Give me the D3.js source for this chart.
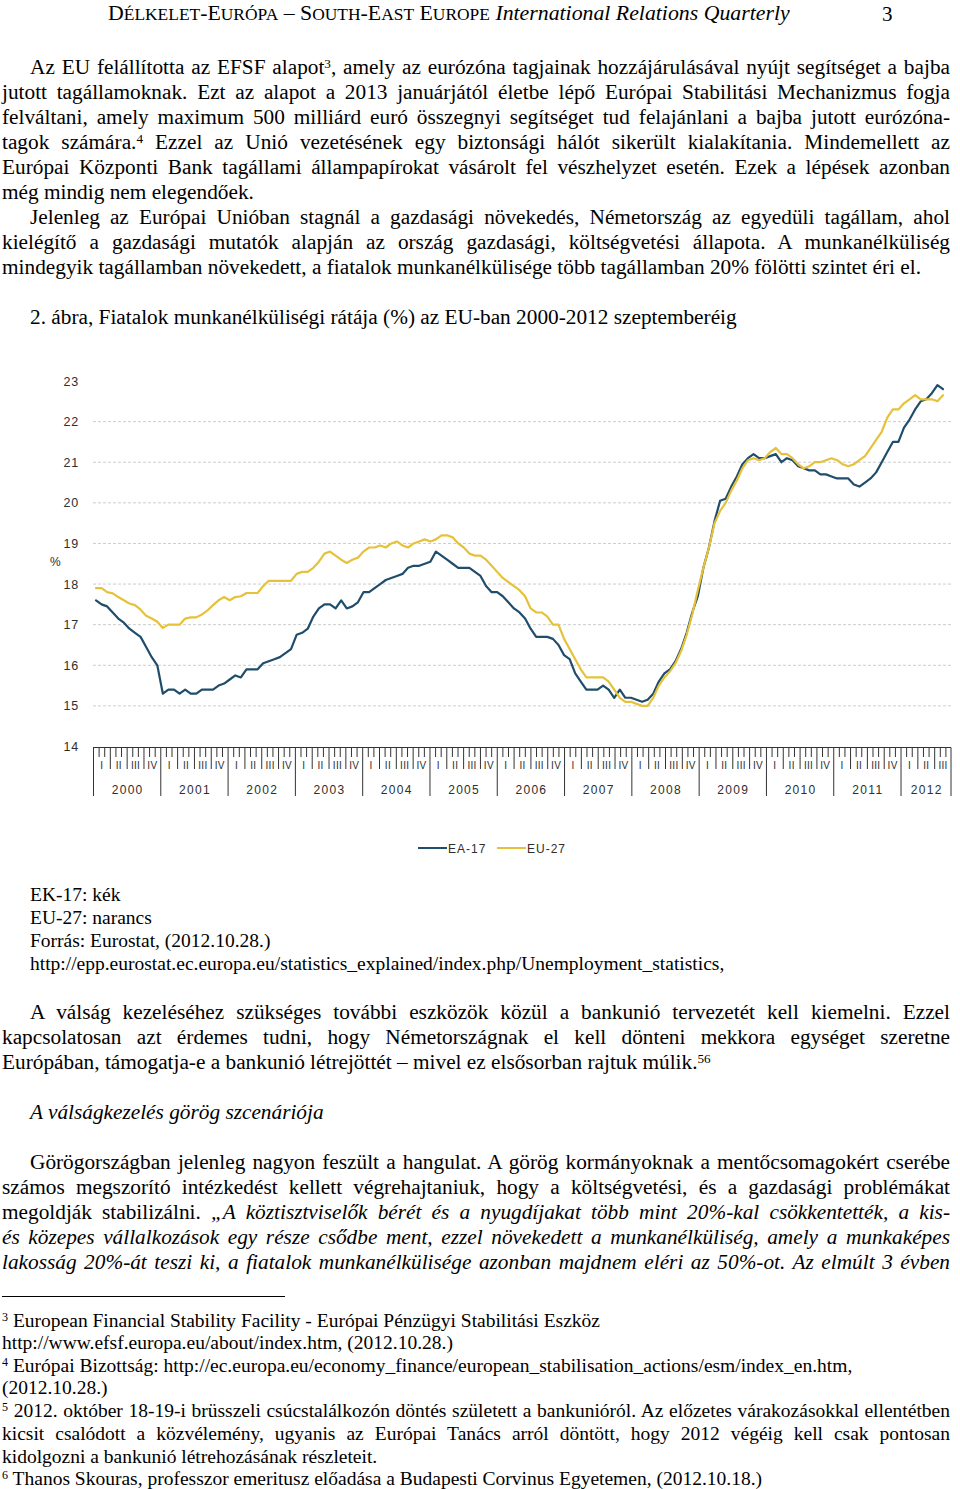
<!DOCTYPE html>
<html><head><meta charset="utf-8">
<script src="https://cdn.jsdelivr.net/npm/d3@7"></script>
<style>
html,body{margin:0;padding:0;background:#fff;}
body{width:960px;height:1489px;position:relative;overflow:hidden;font-family:"Liberation Serif","Times New Roman",serif;color:#000;}
.ln{position:absolute;line-height:1;}
.j{text-align:justify;text-align-last:justify;}
sup{font-size:0.62em;vertical-align:baseline;position:relative;top:-0.5em;line-height:0;}
.sc{font-size:0.8em;}
svg{position:absolute;left:0;top:0;}
.ax{font-family:"Liberation Sans",Arial,sans-serif;fill:#2e2e2e;}
</style></head><body>
<script>
// ---------------- chart data ----------------
const years = ["2000","2001","2002","2003","2004","2005","2006","2007","2008","2009","2010","2011","2012"];
const quarterLabels = ["I","II","III","IV"];
const yTicks = [14,15,16,17,18,19,20,21,22,23];
const gridValues = [15,16,17,18,19,20,21,22];
const seriesNames = ["EA-17","EU-27"];

// monthly youth unemployment rate (%), Jan 2000 – Sep 2012
const ea17 = [
 17.6,17.5,17.45,17.3,17.15,17.05,16.9,16.8,16.7,16.45,16.2,16.0,
 15.3,15.4,15.4,15.3,15.4,15.3,15.3,15.4,15.4,15.4,15.5,15.55,
 15.65,15.75,15.7,15.9,15.9,15.9,16.05,16.1,16.15,16.2,16.3,16.4,
 16.75,16.8,16.9,17.2,17.4,17.5,17.5,17.4,17.6,17.4,17.45,17.55,
 17.8,17.8,17.9,18.0,18.1,18.15,18.2,18.25,18.4,18.45,18.45,18.5,
 18.55,18.8,18.7,18.6,18.5,18.4,18.4,18.4,18.3,18.2,17.95,17.8,
 17.8,17.7,17.55,17.4,17.3,17.15,16.9,16.7,16.7,16.7,16.65,16.5,
 16.25,16.15,15.8,15.6,15.4,15.4,15.4,15.5,15.4,15.2,15.4,15.2,
 15.2,15.15,15.1,15.15,15.3,15.6,15.8,15.9,16.1,16.4,16.8,17.3,
 17.7,18.4,18.9,19.55,20.05,20.1,20.4,20.65,20.95,21.1,21.2,21.1,
 21.1,21.15,21.2,21.0,21.1,21.05,20.9,20.85,20.8,20.8,20.7,20.7,
 20.65,20.6,20.6,20.6,20.45,20.4,20.5,20.6,20.75,21.0,21.25,21.5,
 21.5,21.85,22.05,22.3,22.5,22.55,22.7,22.9,22.8
];
const eu27 = [
 17.9,17.9,17.8,17.77,17.68,17.6,17.52,17.48,17.37,17.22,17.15,17.07,
 16.92,17.0,17.0,17.0,17.15,17.18,17.18,17.25,17.35,17.48,17.6,17.68,
 17.6,17.68,17.7,17.78,17.78,17.78,17.95,18.08,18.08,18.08,18.08,18.08,
 18.25,18.3,18.3,18.4,18.55,18.75,18.8,18.7,18.6,18.52,18.6,18.65,
 18.8,18.9,18.9,18.95,18.9,19.0,19.05,18.95,18.9,19.0,19.05,19.1,
 19.05,19.1,19.2,19.2,19.15,19.0,18.9,18.75,18.7,18.7,18.6,18.45,
 18.3,18.15,18.05,17.95,17.85,17.7,17.4,17.3,17.3,17.2,17.0,17.0,
 16.65,16.4,16.15,15.9,15.7,15.7,15.7,15.7,15.6,15.4,15.2,15.1,
 15.1,15.05,15.0,15.0,15.2,15.5,15.7,15.85,16.05,16.35,16.75,17.25,
 17.85,18.4,18.9,19.5,19.8,20.0,20.3,20.55,20.85,21.05,21.1,21.05,
 21.1,21.25,21.35,21.2,21.2,21.1,20.95,20.85,20.9,21.0,21.0,21.05,
 21.1,21.05,20.95,20.9,20.95,21.05,21.15,21.35,21.55,21.75,22.1,22.3,
 22.3,22.45,22.55,22.65,22.55,22.55,22.55,22.5,22.65
];

// ---------------- page text ----------------
const textLines = [
 {x:30,b:75,s:21.3,j:1,h:'Az EU felállította az EFSF alapot<sup>3</sup>, amely az eurózóna tagjainak hozzájárulásával nyújt segítséget a bajba'},
 {x:2,b:100,s:21.3,j:1,h:'jutott tagállamoknak. Ezt az alapot a 2013 januárjától életbe lépő Európai Stabilitási Mechanizmus fogja'},
 {x:2,b:125,s:21.3,j:1,h:'felváltani, amely maximum 500 milliárd euró összegnyi segítséget tud felajánlani a bajba jutott eurózóna-'},
 {x:2,b:150,s:21.3,j:1,h:'tagok számára.<sup>4</sup> Ezzel az Unió vezetésének egy biztonsági hálót sikerült kialakítania. Mindemellett az'},
 {x:2,b:175,s:21.3,j:1,h:'Európai Központi Bank tagállami állampapírokat vásárolt fel vészhelyzet esetén. Ezek a lépések azonban'},
 {x:2,b:200,s:21.3,j:0,h:'még mindig nem elegendőek.'},
 {x:30,b:225,s:21.3,j:1,h:'Jelenleg az Európai Unióban stagnál a gazdasági növekedés, Németország az egyedüli tagállam, ahol'},
 {x:2,b:250,s:21.3,j:1,h:'kielégítő a gazdasági mutatók alapján az ország gazdasági, költségvetési állapota. A munkanélküliség'},
 {x:2,b:275,s:21.3,j:0,h:'mindegyik tagállamban növekedett, a fiatalok munkanélkülisége több tagállamban 20% fölötti szintet éri el.'},
 {x:30,b:325,s:21.3,j:0,h:'2. ábra, Fiatalok munkanélküliségi rátája (%) az EU-ban 2000-2012 szeptemberéig'},
 {x:30,b:901,s:19.5,j:0,h:'EK-17: kék'},
 {x:30,b:924,s:19.5,j:0,h:'EU-27: narancs'},
 {x:30,b:947,s:19.5,j:0,h:'Forrás: Eurostat, (2012.10.28.)'},
 {x:30,b:970,s:19.5,j:0,h:'http://epp.eurostat.ec.europa.eu/statistics_explained/index.php/Unemployment_statistics,'},
 {x:30,b:1020,s:21.3,j:1,h:'A válság kezeléséhez szükséges további eszközök közül a bankunió tervezetét kell kiemelni. Ezzel'},
 {x:2,b:1045,s:21.3,j:1,h:'kapcsolatosan azt érdemes tudni, hogy Németországnak el kell dönteni mekkora egységet szeretne'},
 {x:2,b:1070,s:21.3,j:0,h:'Európában, támogatja-e a bankunió létrejöttét – mivel ez elsősorban rajtuk múlik.<sup>56</sup>'},
 {x:30,b:1120,s:21.3,j:0,h:'<i>A válságkezelés görög szcenáriója</i>'},
 {x:30,b:1170,s:21.3,j:1,h:'Görögországban jelenleg nagyon feszült a hangulat. A görög kormányoknak a mentőcsomagokért cserébe'},
 {x:2,b:1195,s:21.3,j:1,h:'számos megszorító intézkedést kellett végrehajtaniuk, hogy a költségvetési, és a gazdasági problémákat'},
 {x:2,b:1220,s:21.3,j:1,h:'megoldják stabilizálni. <i>„A köztisztviselők bérét és a nyugdíjakat több mint 20%-kal csökkentették, a kis-</i>'},
 {x:2,b:1245,s:21.3,j:1,h:'<i>és közepes vállalkozások egy része csődbe ment, ezzel növekedett a munkanélküliség, amely a munkaképes</i>'},
 {x:2,b:1270,s:21.3,j:1,h:'<i>lakosság 20%-át teszi ki, a fiatalok munkanélkülisége azonban majdnem eléri az 50%-ot. Az elmúlt 3 évben</i>'},
 {x:2,b:1327,s:19.5,j:0,h:'<sup>3</sup> European Financial Stability Facility - Európai Pénzügyi Stabilitási Eszköz'},
 {x:2,b:1349,s:19.5,j:0,h:'http://www.efsf.europa.eu/about/index.htm, (2012.10.28.)'},
 {x:2,b:1372,s:19.5,j:0,h:'<sup>4</sup> Európai Bizottság: http://ec.europa.eu/economy_finance/european_stabilisation_actions/esm/index_en.htm,'},
 {x:2,b:1394,s:19.5,j:0,h:'(2012.10.28.)'},
 {x:2,b:1417,s:19.5,j:1,h:'<sup>5</sup> 2012. október 18-19-i brüsszeli csúcstalálkozón döntés született a bankunióról. Az előzetes várakozásokkal ellentétben'},
 {x:2,b:1440,s:19.5,j:1,h:'kicsit csalódott a közvélemény, ugyanis az Európai Tanács arról döntött, hogy 2012 végéig kell csak pontosan'},
 {x:2,b:1463,s:19.5,j:0,h:'kidolgozni a bankunió létrehozásának részleteit.'},
 {x:2,b:1485,s:19.5,j:0,h:'<sup>6</sup> Thanos Skouras, professzor emeritusz előadása a Budapesti Corvinus Egyetemen, (2012.10.18.)'}
];

const body = d3.select("body");

// header (manual small caps)
body.append("div").attr("class","ln")
  .style("left","108px").style("top",(21-0.8375*21.8)+"px").style("font-size","21.8px")
  .style("white-space","nowrap")
  .html('D<span class="sc">ÉLKELET</span>-E<span class="sc">URÓPA</span> – S<span class="sc">OUTH</span>-E<span class="sc">AST</span> E<span class="sc">UROPE</span> <i>International Relations Quarterly</i>');
body.append("div").attr("class","ln")
  .style("left","882px").style("top",(22-0.8375*21)+"px").style("font-size","21px").text("3");

body.selectAll("div.tl").data(textLines).enter().append("div")
  .attr("class",d=>"ln tl"+(d.j?" j":""))
  .style("left",d=>d.x+"px")
  .style("top",d=>(d.b-0.8375*d.s)+"px")
  .style("font-size",d=>d.s+"px")
  .style("width",d=>d.j?(950-d.x)+"px":null)
  .style("white-space",d=>d.j?null:"nowrap")
  .html(d=>d.h);

// footnote separator
body.append("div").style("position","absolute").style("left","2px").style("top","1296px")
  .style("width","283px").style("height","1px").style("background","#000");

// ---------------- chart ----------------
const svg = body.append("svg").attr("width",960).attr("height",1489);
const nMonths = ea17.length;
const y = d3.scaleLinear().domain([14,23]).range([746.5,381]);
const x = d3.scaleLinear().domain([0,nMonths-1]).range([96,943]);
const band = d3.scaleBand().domain(d3.range(nMonths)).range([93,951]);

// gridlines
svg.append("g").selectAll("line").data(gridValues).enter().append("line")
  .attr("x1",93).attr("x2",951).attr("y1",d=>y(d)).attr("y2",d=>y(d))
  .attr("stroke","#cdcdcd").attr("stroke-width",1).attr("stroke-dasharray","3,2");

// y axis labels
svg.append("g").selectAll("text").data(yTicks).enter().append("text")
  .attr("class","ax").attr("x",79).attr("y",d=>y(d)+4.5)
  .attr("text-anchor","end").attr("font-size","12.5px").attr("letter-spacing","0.8px")
  .text(d=>d);
svg.append("text").attr("class","ax").attr("x",50).attr("y",566)
  .attr("font-size","12px").text("%");

// time ruler axis
const rul = svg.append("g").attr("stroke","#333").attr("stroke-width",1);
rul.append("line").attr("x1",93).attr("x2",951).attr("y1",747.5).attr("y2",747.5);
const bounds = d3.range(nMonths+1);
rul.selectAll("line.t").data(bounds).enter().append("line").attr("class","t")
  .attr("x1",m=>m<nMonths?band(m)+0.5:951).attr("x2",m=>m<nMonths?band(m)+0.5:951)
  .attr("y1",747.5)
  .attr("y2",m=>(m%12===0||m===nMonths)?796:(m%3===0?769:757));

// quarter labels
const quarters = [];
years.forEach((yr,yi)=>quarterLabels.forEach((q,qi)=>{
  const start = yi*12+qi*3;
  if(start+3<=nMonths) quarters.push({q,start});
}));
svg.append("g").selectAll("text").data(quarters).enter().append("text")
  .attr("class","ax").attr("x",d=>band(d.start)+band.bandwidth()*1.5+0.5).attr("y",768.5)
  .attr("text-anchor","middle").attr("font-size","10px").attr("letter-spacing","0.3px")
  .text(d=>d.q);

// year labels
svg.append("g").selectAll("text").data(years).enter().append("text")
  .attr("class","ax")
  .attr("x",(d,i)=>{const s=band(i*12); const e=(i*12+12<nMonths)?band(i*12+12):951; return (s+e)/2+1;})
  .attr("y",793.5).attr("text-anchor","middle").attr("font-size","12px").attr("letter-spacing","1.3px")
  .text(d=>d);

// series lines
const colors = {"EA-17":"#1f4d6b","EU-27":"#e6c13a"};
const line = d3.line().x((d,i)=>x(i)).y(d=>y(d));
[["EA-17",ea17],["EU-27",eu27]].forEach(([name,vals])=>{
  svg.append("path").datum(vals).attr("d",line).attr("fill","none")
    .attr("stroke",colors[name]).attr("stroke-width",2.2)
    .attr("stroke-linejoin","round").attr("stroke-linecap","round");
});

// legend
const legX = [418,497];
const lg = svg.append("g");
seriesNames.forEach((n,i)=>{
  lg.append("line").attr("x1",legX[i]).attr("x2",legX[i]+29).attr("y1",848).attr("y2",848)
    .attr("stroke",colors[n]).attr("stroke-width",2);
  lg.append("text").attr("class","ax").attr("x",legX[i]+30).attr("y",852.5)
    .attr("font-size","12px").attr("letter-spacing","1px").text(n);
});
</script>
</body></html>
